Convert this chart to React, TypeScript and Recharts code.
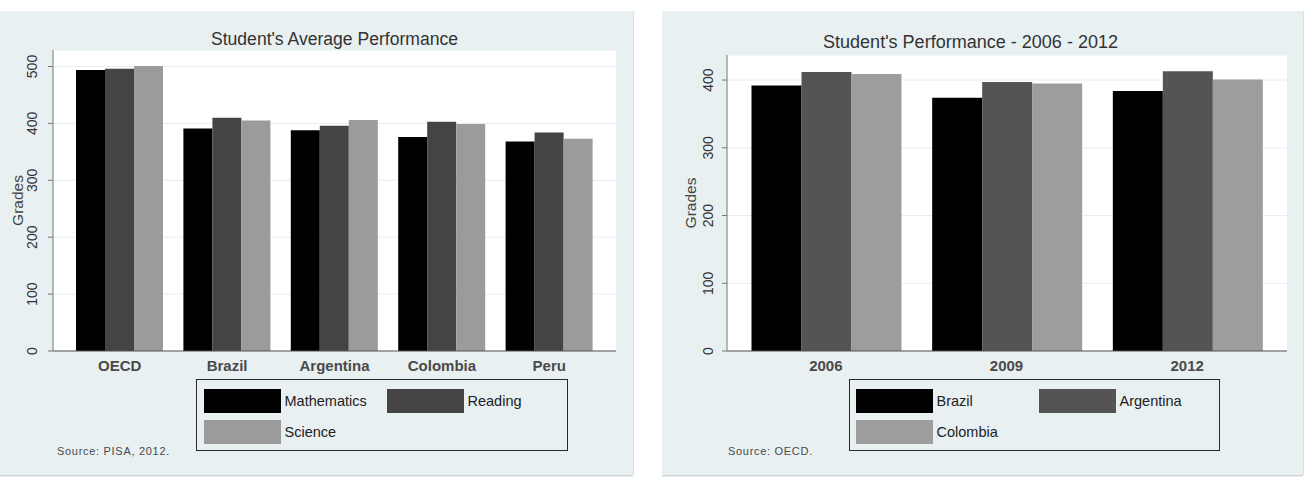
import React from 'react';
import { BarChart, Bar, XAxis, YAxis, CartesianGrid, Legend } from 'recharts';

const FONT = '"Liberation Sans", Arial, Helvetica, sans-serif';

// Average PISA 2012 scores by subject
const countries = ['OECD', 'Brazil', 'Argentina', 'Colombia', 'Peru'];
const subjects = ['Mathematics', 'Reading', 'Science'];
const mathScores = [494, 391, 388, 376, 368];
const readingScores = [496, 410, 396, 403, 384];
const scienceScores = [501, 405, 406, 399, 373];
const subjectColors = ['#000000', '#444444', '#9b9b9b'];
const averageTicks = [0, 100, 200, 300, 400, 500];

// Scores over the PISA rounds
const years = ['2006', '2009', '2012'];
const trendCountries = ['Brazil', 'Argentina', 'Colombia'];
const brazilScores = [392, 374, 384];
const argentinaScores = [412, 397, 413];
const colombiaScores = [409, 395, 401];
const trendColors = ['#000000', '#545454', '#9d9d9d'];
const trendTicks = [0, 100, 200, 300, 400];

const averageData = countries.map((country, i) => ({
  country,
  Mathematics: mathScores[i],
  Reading: readingScores[i],
  Science: scienceScores[i],
}));

const trendData = years.map((year, i) => ({
  year,
  Brazil: brazilScores[i],
  Argentina: argentinaScores[i],
  Colombia: colombiaScores[i],
}));

const PANEL_BG = '#e8f0f2';

const makeYTick = (shift: number) => (props: any) => {
  const { x, y, payload } = props;
  const cx = x - shift;
  return (
    <text
      x={cx}
      y={y}
      transform={`rotate(-90 ${cx} ${y})`}
      textAnchor="middle"
      dominantBaseline="central"
      fontFamily={FONT}
      fontSize={14}
      fill="#333"
    >
      {payload.value}
    </text>
  );
};

const XTick = (props: any) => {
  const { x, y, payload } = props;
  return (
    <text x={x} y={y + 20} textAnchor="middle" fontFamily={FONT} fontSize={15} fontWeight="bold" fill="#4a4a4a">
      {payload.value}
    </text>
  );
};

// Legend box: items laid out two per row, in series order
const makeLegend = (order: string[], swatchLeft: number, colStep: number) => (props: any) => {
  const items = [...(props.payload || [])].sort(
    (a: any, b: any) => order.indexOf(a.value) - order.indexOf(b.value)
  );
  return (
    <div
      style={{
        position: 'relative',
        width: '100%',
        height: '100%',
        boxSizing: 'border-box',
        border: '1.5px solid #2a2a2a',
        fontFamily: FONT,
      }}
    >
      {items.map((item: any, i: number) => {
        const col = i % 2;
        const row = Math.floor(i / 2);
        return (
          <div
            key={item.value}
            style={{
              position: 'absolute',
              left: swatchLeft + col * colStep,
              top: 8.5 + row * 31,
              height: 24,
              display: 'flex',
              alignItems: 'center',
              whiteSpace: 'nowrap',
            }}
          >
            <div style={{ width: 77, height: 24, background: item.color }} />
            <span style={{ marginLeft: 4, fontSize: 14.5, color: '#222', lineHeight: '24px' }}>{item.value}</span>
          </div>
        );
      })}
    </div>
  );
};

const panelStyle = (left: number, width: number): React.CSSProperties => ({
  position: 'absolute',
  left,
  top: 11,
  width,
  height: 464,
  background: PANEL_BG,
  boxShadow: '0 1.5px 0 #cfd5d7, 1px 0 0 #dde3e5',
});

export default function App() {
  return (
    <div style={{ position: 'absolute', left: 0, top: 0, width: 1312, height: 478, background: '#fff' }}>
      <div style={panelStyle(0, 633)}>
        <BarChart
          width={633}
          height={464}
          data={averageData}
          margin={{ top: 39, right: 17, bottom: 94, left: 0 }}
          barCategoryGap={10}
          barGap={0}
        >
          <CartesianGrid vertical={false} stroke="#e6eef0" fill="#ffffff" />
          <XAxis
            dataKey="country"
            height={30}
            tickLine={false}
            tickSize={0}
            tickMargin={0}
            axisLine={{ stroke: '#555', strokeWidth: 1.2 }}
            padding={{ left: 13, right: 13 }}
            tick={XTick}
            interval={0}
          />
          <YAxis
            width={53}
            domain={[0, 529]}
            ticks={averageTicks}
            allowDataOverflow
            tickSize={5}
            tickMargin={0}
            axisLine={{ stroke: '#777' }}
            tickLine={{ stroke: '#777' }}
            tick={makeYTick(16)}
          />
          {subjects.map((s, i) => (
            <Bar key={s} dataKey={s} fill={subjectColors[i]} isAnimationActive={false} />
          ))}
          <Legend
            layout="horizontal"
            verticalAlign="middle"
            align="center"
            wrapperStyle={{ left: 196, top: 368, width: 372, height: 72 }}
            content={makeLegend(subjects, 6.5, 183)}
          />
          <text x={334.5} y={34} textAnchor="middle" fontFamily={FONT} fontSize={18} fill="#333" textLength={247} lengthAdjust="spacingAndGlyphs">
            Student's Average Performance
          </text>
          <text
            x={17.5}
            y={189.5}
            transform="rotate(-90 17.5 189.5)"
            textAnchor="middle"
            dominantBaseline="central"
            fontFamily={FONT}
            fontSize={15.5}
            fill="#444"
          >
            Grades
          </text>
          <text x={57} y={444} fontFamily={FONT} fontSize={11} fill="#4a4a4a" letterSpacing={0.7}>
            Source: PISA, 2012.
          </text>
        </BarChart>
      </div>

      <div style={panelStyle(662, 641)}>
        <BarChart
          width={641}
          height={464}
          data={trendData}
          margin={{ top: 44, right: 16, bottom: 94, left: 0 }}
          barCategoryGap={16}
          barGap={0}
        >
          <CartesianGrid vertical={false} stroke="#e6eef0" fill="#ffffff" />
          <XAxis
            dataKey="year"
            height={30}
            tickLine={false}
            tickSize={0}
            tickMargin={0}
            axisLine={{ stroke: '#555', strokeWidth: 1.2 }}
            padding={{ left: 8.5, right: 9.5 }}
            tick={XTick}
            interval={0}
          />
          <YAxis
            width={65}
            domain={[0, 437]}
            ticks={trendTicks}
            allowDataOverflow
            tickSize={5}
            tickMargin={0}
            axisLine={{ stroke: '#777' }}
            tickLine={{ stroke: '#777' }}
            tick={makeYTick(14)}
          />
          {trendCountries.map((c, i) => (
            <Bar key={c} dataKey={c} fill={trendColors[i]} isAnimationActive={false} />
          ))}
          <Legend
            layout="horizontal"
            verticalAlign="middle"
            align="center"
            wrapperStyle={{ left: 187, top: 368, width: 371, height: 72 }}
            content={makeLegend(trendCountries, 5.5, 183)}
          />
          <text x={308.5} y={37} textAnchor="middle" fontFamily={FONT} fontSize={18} fill="#333" textLength={295} lengthAdjust="spacingAndGlyphs">
            Student's Performance - 2006 - 2012
          </text>
          <text
            x={28}
            y={192}
            transform="rotate(-90 28 192)"
            textAnchor="middle"
            dominantBaseline="central"
            fontFamily={FONT}
            fontSize={15.5}
            fill="#444"
          >
            Grades
          </text>
          <text x={66} y={444} fontFamily={FONT} fontSize={11} fill="#4a4a4a" letterSpacing={0.7}>
            Source: OECD.
          </text>
        </BarChart>
      </div>
    </div>
  );
}
